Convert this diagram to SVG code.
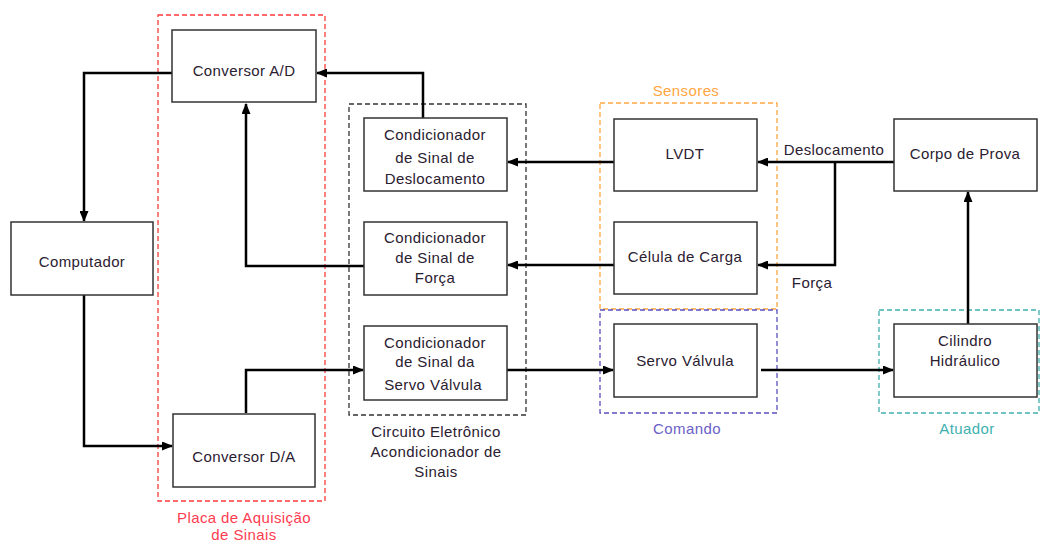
<svg xmlns="http://www.w3.org/2000/svg" width="1044" height="542" viewBox="0 0 1044 542">
<style>
.box{fill:#fff;stroke:#333;stroke-width:1.5}
.t{font-family:"Liberation Sans",Arial,sans-serif;font-size:15px;fill:#2a2030;text-anchor:middle;letter-spacing:0.4px}
.g{fill:none;stroke-width:1.3;stroke-dasharray:5,3}
.c{fill:none;stroke:#000;stroke-width:2.5;marker-end:url(#ah)}
.l{font-family:"Liberation Sans",Arial,sans-serif;font-size:15px;text-anchor:middle;letter-spacing:0.4px}
</style>
<defs>
<marker id="ah" markerUnits="userSpaceOnUse" markerWidth="11" markerHeight="9" refX="10" refY="4.5" orient="auto">
<path d="M0,0 L11,4.5 L0,9 z" fill="#000"/>
</marker>
</defs>
<rect width="1044" height="542" fill="#fff"/>
<g id="groups">
<rect class="g" x="158" y="15" width="167" height="486" stroke="#ff3b3b"/>
<text class="l" x="244" y="523" fill="#ff3b50">Placa de Aquisição</text>
<text class="l" x="244" y="540" fill="#ff3b50">de Sinais</text>
<rect class="g" x="349" y="104" width="177" height="311" stroke="#333"/>
<text class="l" x="436" y="437" fill="#2a2030">Circuito Eletrônico</text>
<text class="l" x="436" y="457" fill="#2a2030">Acondicionador de</text>
<text class="l" x="436" y="477" fill="#2a2030">Sinais</text>
<rect class="g" x="600" y="103" width="177" height="206" stroke="#ffa640"/>
<text class="l" x="686" y="96" fill="#ffa640">Sensores</text>
<rect class="g" x="600" y="310" width="177" height="103" stroke="#5a50c0"/>
<text class="l" x="687" y="434" fill="#6a60c8">Comando</text>
<rect class="g" x="879" y="310" width="160" height="103" stroke="#40b0b0"/>
<text class="l" x="967" y="434" fill="#40b0b0">Atuador</text>
</g>
<g id="connectors">
<path class="c" d="M423,118 V73 H317"/>
<path class="c" d="M172,73 H84 V221"/>
<path class="c" d="M84,295 V446 H172"/>
<path class="c" d="M246,413 V370 H363"/>
<path class="c" d="M364,266 H246 V104"/>
<path class="c" d="M614,162 H508"/>
<path class="c" d="M614,265 H508"/>
<path class="c" d="M507,370 H613"/>
<path class="c" d="M894,162 H758"/>
<path class="c" d="M835,162 V265 H758"/>
<path class="c" d="M761,370 H893"/>
<path class="c" d="M968,324 V192"/>
<text class="t" x="834" y="155">Deslocamento</text>
<text class="t" x="812" y="288">Força</text>
</g>
<g id="conversor-ad"><rect class="box" x="172" y="30" width="144" height="72"/><text class="t" x="244" y="76">Conversor A/D</text></g>
<g id="computador"><rect class="box" x="11" y="222" width="142" height="73"/><text class="t" x="82" y="267">Computador</text></g>
<g id="conversor-da"><rect class="box" x="173" y="414" width="142" height="73"/><text class="t" x="244" y="462">Conversor D/A</text></g>
<g id="cond-desloc"><rect class="box" x="364" y="118" width="143" height="73"/><text class="t" x="435" y="140">Condicionador</text><text class="t" x="435" y="163">de Sinal de</text><text class="t" x="435" y="184">Deslocamento</text></g>
<g id="cond-forca"><rect class="box" x="364" y="222" width="143" height="73"/><text class="t" x="435" y="243">Condicionador</text><text class="t" x="435" y="263">de Sinal de</text><text class="t" x="435" y="283">Força</text></g>
<g id="cond-servo"><rect class="box" x="364" y="326" width="143" height="74"/><text class="t" x="435" y="348">Condicionador</text><text class="t" x="435" y="367">de Sinal da</text><text class="t" x="433" y="390">Servo Válvula</text></g>
<g id="lvdt"><rect class="box" x="614" y="119" width="143" height="72"/><text class="t" x="685" y="159">LVDT</text></g>
<g id="celula"><rect class="box" x="614" y="222" width="143" height="72"/><text class="t" x="685" y="262">Célula de Carga</text></g>
<g id="servo"><rect class="box" x="614" y="324" width="143" height="73"/><text class="t" x="685" y="366">Servo Válvula</text></g>
<g id="corpo"><rect class="box" x="894" y="119" width="143" height="72"/><text class="t" x="965" y="159">Corpo de Prova</text></g>
<g id="cilindro"><rect class="box" x="894" y="324" width="143" height="73"/><text class="t" x="965" y="346">Cilindro</text><text class="t" x="965" y="366">Hidráulico</text></g>
</svg>
